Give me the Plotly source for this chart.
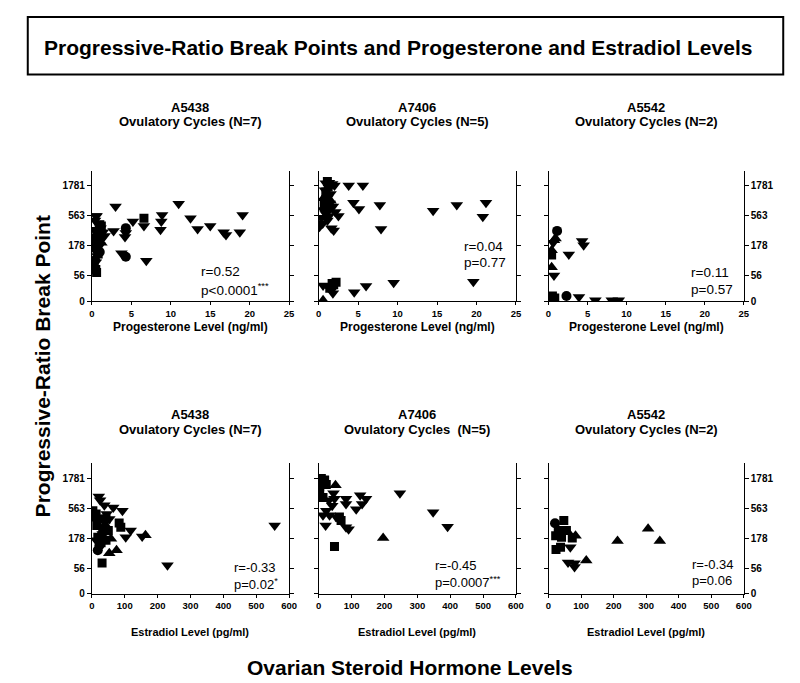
import plotly.graph_objects as go

# ---------------- data ----------------
# symbol codes: 'v' triangle-down, 's' square, 'o' circle, '^' triangle-up
P1_X = [0.6, 3.0, 2.75, 3.75, 4.3, 4.3, 4.3, 4.2, 5.2, 6.6, 6.6, 6.9, 8.9, 8.8, 8.7, 11.0, 12.5, 13.4, 15.0, 16.7, 17.0, 18.75, 19.1,
        0.5, 0.4, 0.8, 1.1, 1.4, 1.6, 0.3, 0.9, 1.2, 0.6, 1.0, 0.4, 0.7, 0.5,
        0.5, 0.6, 1.0, 1.2, 0.4, 0.5, 0.8, 0.3, 0.9,
        0.7, 1.0, 0.6, 1.1,
        0.4, 0.6, 0.8, 1.2]
P1_Y = [560, 800, 315, 134, 350, 117, 290, 250, 450, 510, 380, 100, 580, 450, 330, 890, 510, 340, 380, 300, 270, 300, 580,
        560, 470, 420, 350, 300, 260, 330, 280, 230, 200, 180, 150, 120, 95,
        72, 64, 400, 380, 220, 170, 130, 100, 300,
        160, 140, 260, 310,
        110, 330, 240, 200]
P1_S = ['v', 'v', 'v', 'v', 'o', 'o', 'v', 'v', 'v', 's', 'v', 'v', 'v', 'v', 'v', 'v', 'v', 'v', 'v', 'v', 'v', 'v', 'v',
        'v', 'v', 'v', 'v', 'v', 'v', 'v', 'v', 'v', 'v', 'v', 'v', 'v', 'v',
        's', 's', 's', 's', 's', 's', 's', 's', 's',
        'o', 'o', 'o', 'o',
        '^', '^', '^', '^']

P2_X = [0.9, 1.3, 1.7, 2.0, 0.8, 1.5, 1.1, 0.7, 1.4, 1.8, 0.6, 2.1, 1.0, 0.9, 1.3, 2.5, 0.3, 1.1, 0.1, 1.6, 1.9, 0.5,
        1.1, 1.2, 0.9, 1.0, 0.7, 1.2,
        0.6, 1.5,
        3.8, 5.6, 4.4, 5.1, 7.75, 7.9, 14.5, 17.5, 21.2, 20.8,
        0.55, 1.6, 1.8, 4.5, 6.0, 9.5, 19.6, 1.2,
        2.2, 1.9, 1.4, 1.7,
        0.55]
P2_Y = [1950, 2000, 1900, 1800, 1500, 1300, 1100, 1000, 900, 800, 700, 650, 800, 600, 560, 560, 520, 470, 370, 350, 320, 420,
        2100, 1700, 1400, 1200, 900, 750,
        1100, 1000,
        1800, 1800, 930, 730, 850, 340, 680, 850, 930, 540,
        39, 32, 29, 30, 38, 43, 45, 37,
        44, 40, 35, 42,
        22]
P2_S = ['v'] * 22 + ['s'] * 6 + ['^'] * 2 + ['v'] * 10 + ['v'] * 8 + ['s'] * 4 + ['^']

P3_X = [1.1, 2.3, 0.7, 0.9, 0.4, 0.4, 0.4, 0.5, 0.6, 0.8, 0.4, 0.7, 4.3, 4.5, 2.6, 3.9, 6.0, 8.1, 9.0, 0.6]
P3_Y = [315, 26, 220, 235, 150, 78, 125, 26, 22, 24, 23, 57, 215, 182, 128, 25, 22, 22, 22, 200]
P3_S = ['o', 'o', '^', '^', '^', '^', 's', 's', 's', 's', 's', 'v', 'v', 'v', 'v', 'v', 'v', 'v', 'v', 'v']

P4_X = [21, 38, 65, 93, 53, 118, 103, 153, 230, 556, 33, 13, 25, 45,
        3, 13, 15, 23, 43, 50, 83, 88, 31, 18, 33, 28, 43, 8,
        163, 58, 75, 53, 40,
        18, 23, 30]
P4_Y = [880, 630, 575, 510, 370, 240, 185, 190, 63, 290, 210, 165, 760, 450,
        510, 450, 290, 370, 370, 240, 320, 270, 69, 185, 240, 150, 165, 400,
        200, 175, 112, 100, 300,
        112, 135, 200]
P4_S = ['v'] * 14 + ['s'] * 14 + ['^'] * 5 + ['o'] * 3

P5_X = [8, 13, 3, 18, 23, 3, 13, 63, 68, 48,
        51, 196,
        31, 48, 41, 23, 33, 13, 21, 53, 83, 83, 126, 144, 132, 114, 83, 91, 247, 348, 392, 45]
P5_Y = [1750, 1450, 1300, 1650, 1400, 980, 850, 400, 350, 130,
        1350, 180,
        760, 810, 620, 510, 430, 430, 290, 400, 810, 660, 920, 810, 660, 540, 270, 250, 1000, 480, 275, 1000]
P5_S = ['s'] * 10 + ['^'] * 2 + ['v'] * 20

P6_X = [20, 47, 22, 30, 55, 40, 73, 23, 37, 83, 58, 116, 212, 306, 342, 67, 60, 80, 80]
P6_Y = [315, 350, 195, 240, 240, 185, 180, 115, 126, 195, 230, 76, 160, 255, 160, 126, 70, 59, 68]
P6_S = ['o'] + ['s'] * 8 + ['^'] * 6 + ['v'] * 4

MONKEYS = ['A5438', 'A7406', 'A5542']
CYCLES = ['Ovulatory Cycles (N=7)', 'Ovulatory Cycles (N=5)', 'Ovulatory Cycles (N=2)']
CYCLES_BOTTOM = ['Ovulatory Cycles (N=7)', 'Ovulatory Cycles&nbsp; (N=5)', 'Ovulatory Cycles (N=2)']
STATS_TOP = [('r=0.52', 'p<0.0001<sup>***</sup>'), ('r=0.04', 'p=0.77'), ('r=0.11', 'p=0.57')]
STATS_BOTTOM = [('r=-0.33', 'p=0.02<sup>*</sup>'), ('r=-0.45', 'p=0.0007<sup>***</sup>'), ('r=-0.34', 'p=0.06')]

Y_TICK_VALS = [21.13, 56, 178, 563, 1781]
Y_TICK_TEXT = ['0', '56', '178', '563', '1781']
PROG_TICKS = [0, 5, 10, 15, 20, 25]
E2_TICKS = [0, 100, 200, 300, 400, 500, 600]

# ---------------- layout helpers ----------------
W, H = 800, 683
FONT = 'Liberation Sans, Arial, sans-serif'
SYM = {'v': 'triangle-down', 's': 'square', 'o': 'circle', '^': 'triangle-up'}
SIZE = {'v': 11, 's': 9, 'o': 10, '^': 11}

def fx(px):
    return px / W

def fy(py):
    return 1 - py / H

COLS = [(82, 282), (312, 512), (545, 743)]
ROWS = [(164, 296), (459, 591)]

panels = [(P1_X, P1_Y, P1_S), (P2_X, P2_Y, P2_S), (P3_X, P3_Y, P3_S),
          (P4_X, P4_Y, P4_S), (P5_X, P5_Y, P5_S), (P6_X, P6_Y, P6_S)]

fig = go.Figure()
layout = dict(width=W, height=H, margin=dict(l=0, r=0, t=0, b=0),
              paper_bgcolor='white', plot_bgcolor='white', showlegend=False,
              font=dict(family=FONT, color='black'))

annotations = []
for i, (xs, ys, ss) in enumerate(panels):
    row, col = divmod(i, 3)
    n = i + 1
    xa = 'x' if n == 1 else f'x{n}'
    ya = 'y' if n == 1 else f'y{n}'
    fig.add_trace(go.Scatter(
        x=xs, y=ys, mode='markers', xaxis=xa, yaxis=ya,
        marker=dict(symbol=[SYM[s] for s in ss], size=[SIZE[s] for s in ss],
                    color='black', opacity=1, line=dict(width=0)),
        hoverinfo='skip'))
    c0, c1 = COLS[col]
    r0, r1 = ROWS[row]
    if row == 0:
        xr = [0, 25]
        xt = PROG_TICKS
    else:
        xr = [0, 600]
        xt = E2_TICKS
    layout['xaxis' if n == 1 else f'xaxis{n}'] = dict(
        domain=[fx(c0), fx(c1)], range=xr, anchor=ya, tickvals=xt,
        showline=True, linecolor='black', linewidth=1, ticks='outside', ticklen=3,
        tickcolor='black', showgrid=False, zeroline=False,
        tickfont=dict(size=9.5, family=FONT, weight='bold'), fixedrange=True)
    layout['yaxis' if n == 1 else f'yaxis{n}'] = dict(
        domain=[fy(r1), fy(r0)], type='log', range=[1.3249, 3.503], anchor=xa,
        side='right' if col == 2 else 'left',
        tickvals=Y_TICK_VALS, ticktext=Y_TICK_TEXT, showticklabels=(col != 1),
        showline=True, linecolor='black', linewidth=1, ticks='outside', ticklen=4,
        tickcolor='black', mirror='ticks', showgrid=False, zeroline=False,
        tickfont=dict(size=10, family=FONT, weight='bold'), fixedrange=True)

    # panel titles
    cx = (c0 + c1) / 2
    ty = 100 if row == 0 else 410
    annotations.append(dict(x=fx(cx), y=fy(ty), xref='paper', yref='paper', showarrow=False,
                            text='<b>' + MONKEYS[col] + '</b>', font=dict(size=13),
                            xanchor='center', yanchor='middle'))
    annotations.append(dict(x=fx(cx), y=fy(ty + 15), xref='paper', yref='paper', showarrow=False,
                            text='<b>' + (CYCLES[col] if row == 0 else CYCLES_BOTTOM[col]) + '</b>',
                            font=dict(size=13), xanchor='center', yanchor='middle'))
    # x axis titles
    if row == 0:
        annotations.append(dict(x=fx(cx), y=fy(322), xref='paper', yref='paper', showarrow=False,
                                text='<b>Progesterone Level (ng/ml)</b>', font=dict(size=12),
                                xanchor='center', yanchor='middle'))
    else:
        annotations.append(dict(x=fx(cx), y=fy(630), xref='paper', yref='paper', showarrow=False,
                                text='<b>Estradiol Level (pg/ml)</b>', font=dict(size=11),
                                xanchor='center', yanchor='middle'))

# stats annotations (left x px, r y px, p y px)
STAT_POS_TOP = [(191, 266, 283), (457, 241, 257), (687, 267, 284)]
STAT_POS_BOTTOM = [(224, 564, 581), (428, 562, 579), (688, 561, 578)]
for (r, p), (sx, ry, py) in zip(STATS_TOP, STAT_POS_TOP):
    for t, yy in ((r, ry), (p, py)):
        annotations.append(dict(x=fx(sx), y=fy(yy), xref='paper', yref='paper', showarrow=False,
                                text=t, font=dict(size=13.5), xanchor='left', yanchor='middle'))
for (r, p), (sx, ry, py) in zip(STATS_BOTTOM, STAT_POS_BOTTOM):
    for t, yy in ((r, ry), (p, py)):
        annotations.append(dict(x=fx(sx), y=fy(yy), xref='paper', yref='paper', showarrow=False,
                                text=t, font=dict(size=13), xanchor='left', yanchor='middle'))

# main title, axis titles
annotations.append(dict(x=fx(392), y=fy(40), xref='paper', yref='paper', showarrow=False,
                        text='<b>Progressive-Ratio Break Points and Progesterone and Estradiol Levels</b>',
                        font=dict(size=21), xanchor='center', yanchor='middle'))
annotations.append(dict(x=fx(32), y=fy(362), xref='paper', yref='paper', showarrow=False,
                        text='<b>Progressive-Ratio Break Point</b>', textangle=-90,
                        font=dict(size=21), xanchor='center', yanchor='middle'))
annotations.append(dict(x=fx(405), y=fy(665), xref='paper', yref='paper', showarrow=False,
                        text='<b>Ovarian Steroid Hormone Levels</b>',
                        font=dict(size=21), xanchor='center', yanchor='middle'))

layout['annotations'] = annotations
layout['shapes'] = [dict(type='rect', xref='paper', yref='paper', x0=fx(17), x1=fx(783),
                         y0=fy(67), y1=fy(9), line=dict(color='black', width=2))]
fig.update_layout(**layout)
fig.write_html('out.html')
